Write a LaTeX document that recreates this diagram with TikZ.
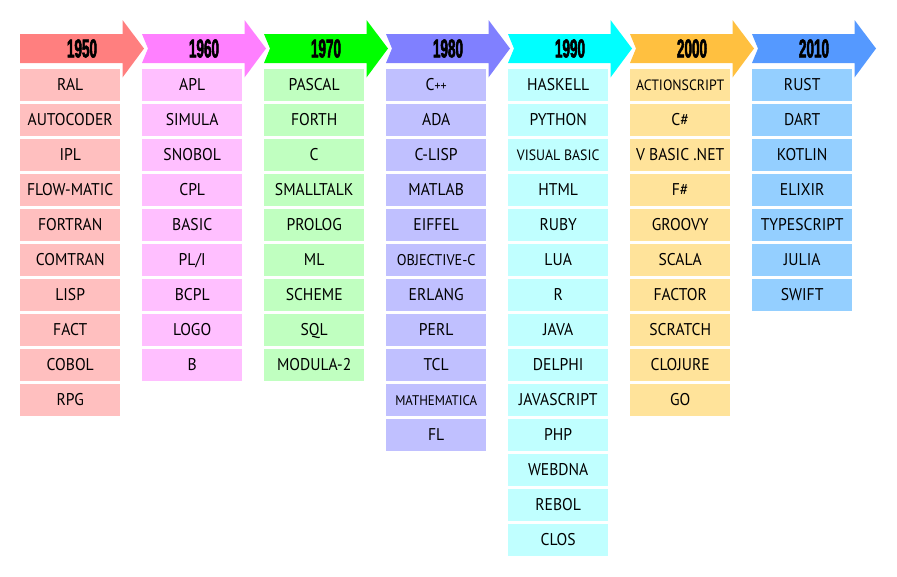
\documentclass[tikz,border=0pt]{standalone}
\usepackage{fontspec}
\setmainfont{PT Sans}[FakeStretch=0.92]
\newfontfamily\yearfont{Liberation Sans}[FakeStretch=0.52,FakeBold=2]
\newcommand\fsz[1]{\fontsize{#1}{#1}\selectfont}
\definecolor{c1a}{HTML}{FF7F7F}\definecolor{c1b}{HTML}{FFBFBF}
\definecolor{c2a}{HTML}{FF80FF}\definecolor{c2b}{HTML}{FFBFFF}
\definecolor{c3a}{HTML}{00FF00}\definecolor{c3b}{HTML}{C0FFC0}
\definecolor{c4a}{HTML}{8080FF}\definecolor{c4b}{HTML}{C0C0FF}
\definecolor{c5a}{HTML}{00FFFF}\definecolor{c5b}{HTML}{C0FFFF}
\definecolor{c6a}{HTML}{FFC040}\definecolor{c6b}{HTML}{FFE39A}
\definecolor{c7a}{HTML}{5599FF}\definecolor{c7b}{HTML}{94CFFF}
\begin{document}
\begin{tikzpicture}[x=1pt,y=-1pt,
  yearlbl/.style={font=\yearfont\bfseries\fontsize{26}{26}\selectfont, inner sep=0pt},
  langbox/.style={minimum width=100pt, minimum height=32pt, inner sep=0pt,
    text height=11.5pt, text depth=0pt,
    font=\fontsize{17}{17}\selectfont, anchor=north west}]
\useasboundingbox (0,0) rectangle (897,576);
\foreach \i/\yr/\ca/\cb/\items in {
  0/1950/c1a/c1b/{RAL,AUTOCODER,IPL,FLOW-MATIC,FORTRAN,COMTRAN,LISP,FACT,COBOL,RPG},
  1/1960/c2a/c2b/{APL,SIMULA,SNOBOL,CPL,BASIC,{PL/I},BCPL,LOGO,B},
  2/1970/c3a/c3b/{PASCAL,FORTH,C,SMALLTALK,PROLOG,ML,SCHEME,SQL,MODULA-2},
  3/1980/c4a/c4b/{C{\fsz{13}++},ADA,C-LISP,MATLAB,EIFFEL,{\fsz{15.5}OBJECTIVE-C},ERLANG,PERL,TCL,{\fsz{14}MATHEMATICA},FL},
  4/1990/c5a/c5b/{HASKELL,PYTHON,{\fsz{15}VISUAL BASIC},HTML,RUBY,LUA,R,JAVA,DELPHI,JAVASCRIPT,PHP,WEBDNA,REBOL,CLOS},
  5/2000/c6a/c6b/{{\fsz{15}ACTIONSCRIPT},C\#,V BASIC .NET,F\#,GROOVY,SCALA,FACTOR,SCRATCH,CLOJURE,GO},
  6/2010/c7a/c7b/{RUST,DART,KOTLIN,ELIXIR,TYPESCRIPT,JULIA,SWIFT}}{
  \pgfmathsetmacro\L{20+122*\i}
  \ifnum\i=0
    \fill[\ca] (\L,34) -- ({\L+102.5},34) -- ({\L+102.5},20) -- ({\L+124},48.5)
      -- ({\L+102.5},77.5) -- ({\L+102.5},63) -- (\L,63) -- cycle;
  \else
    \fill[\ca] (\L,34) -- ({\L+102.5},34) -- ({\L+102.5},20) -- ({\L+124},48.5)
      -- ({\L+102.5},77.5) -- ({\L+102.5},63) -- (\L,63) -- ({\L+6},48.5) -- cycle;
  \fi
  \node[yearlbl] (year-\i) at ({\L+62},48.5) {\yr};
  \foreach \t [count=\j from 0] in \items {
    \node[langbox, fill=\cb] (box-\i-\j) at (\L,{68.8+35*\j}) {\t};
  }
}
\end{tikzpicture}
\end{document}
